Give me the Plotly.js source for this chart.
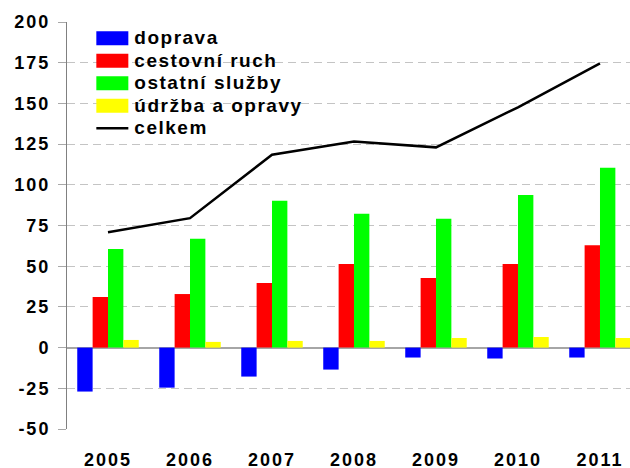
<!DOCTYPE html>
<html>
<head>
<meta charset="utf-8">
<script src="https://cdn.plot.ly/plotly-3.0.1.min.js"></script>
<style>
html, body { margin:0; padding:0; background:#fff; overflow:hidden; }
#chart { width:630px; height:468px; }
.xtick text, .ytick text { letter-spacing: 2px; }
.legend .legendtext { font-size: 19px !important; letter-spacing: 1.5px; }
</style>
</head>
<body>
<div id="chart"></div>
<script>
const years = ['2005', '2006', '2007', '2008', '2009', '2010', '2011'];
const seriesNames = ['doprava', 'cestovní ruch', 'ostatní služby', 'údržba a opravy', 'celkem'];
const doprava  = [-27.0, -24.6, -17.8, -13.5, -6.1, -6.7, -6.1];
const cestovni = [31.1, 32.9, 39.7, 51.4, 42.8, 51.4, 62.8];
const ostatni  = [60.6, 66.8, 90.2, 82.2, 79.1, 93.8, 110.5];
const udrzba   = [4.7, 3.5, 4.1, 4.1, 5.9, 6.5, 5.9];
const celkem   = [70.9, 79.5, 118.5, 126.6, 123.0, 147.6, 174.6];
const yTicks   = [-50, -25, 0, 25, 50, 75, 100, 125, 150, 175, 200];

const FONT = '"Liberation Sans", Arial, Helvetica, sans-serif';
const colors = ['#0000ff', '#ff0000', '#00ff00', '#ffff00'];
const barData = [doprava, cestovni, ostatni, udrzba];

const traces = barData.map((vals, i) => ({
  type: 'bar', x: years, y: vals, name: seriesNames[i],
  marker: { color: colors[i], line: { width: 0 } }
}));
traces.push({
  type: 'scatter', mode: 'lines', x: years, y: celkem, name: seriesNames[4],
  line: { color: '#000000', width: 2.5 }
});

const layout = {
  width: 630, height: 468,
  margin: { l: 67, r: 0, t: 22, b: 39 },
  paper_bgcolor: '#ffffff', plot_bgcolor: '#ffffff',
  font: { family: FONT, size: 18, color: '#000000', weight: 'bold' },
  barmode: 'group', bargap: 0.25, bargroupgap: 0,
  showlegend: true,
  legend: {
    xref: 'paper', yref: 'paper',
    x: 0.045, y: 1, xanchor: 'left', yanchor: 'top',
    bgcolor: 'rgba(0,0,0,0)', borderwidth: 0,
    font: { family: FONT, size: 15, weight: 'bold', color: '#000' },
    itemwidth: 32, traceorder: 'normal'
  },
  xaxis: {
    type: 'category', range: [-0.5, 6.366],
    showline: false, ticks: '', showgrid: false, zeroline: false,
    tickfont: { family: FONT, size: 18, weight: 'bold', color: '#000' },
    ticklabelstandoff: 18, fixedrange: true
  },
  yaxis: {
    range: [-50, 200], tickmode: 'array', tickvals: yTicks,
    ticktext: yTicks.map(String),
    showline: true, linecolor: '#808080', linewidth: 1,
    ticks: 'outside', ticklen: 8, tickcolor: '#a8a8a8', tickwidth: 1,
    showgrid: true, gridcolor: '#c4c4c4', gridwidth: 1, griddash: '8px,5px',
    zeroline: true, zerolinecolor: '#a6a6a6', zerolinewidth: 2,
    tickfont: { family: FONT, size: 18, weight: 'bold', color: '#000' },
    ticklabelstandoff: 4, fixedrange: true
  }
};

Plotly.newPlot('chart', traces, layout, { staticPlot: true, displayModeBar: false }).then(gd => {
  gd.querySelectorAll('.legend [clip-path]').forEach(e => e.removeAttribute('clip-path'));
  gd.querySelectorAll('.legend .traces').forEach(tr => {
    const t = tr.querySelector('.legendtext');
    if (!t) return;
    const tx = parseFloat(t.getAttribute('x')) || 42;
    const x0 = tx - 38;
    tr.querySelectorAll('.legendpoints path').forEach(p => {
      p.setAttribute('transform', '');
      p.setAttribute('d', 'M' + x0 + ',-7h32v14h-32Z');
    });
    tr.querySelectorAll('.legendlines path').forEach(p => {
      p.setAttribute('d', 'M' + x0 + ',0h32');
    });
  });
});
</script>
</body>
</html>
